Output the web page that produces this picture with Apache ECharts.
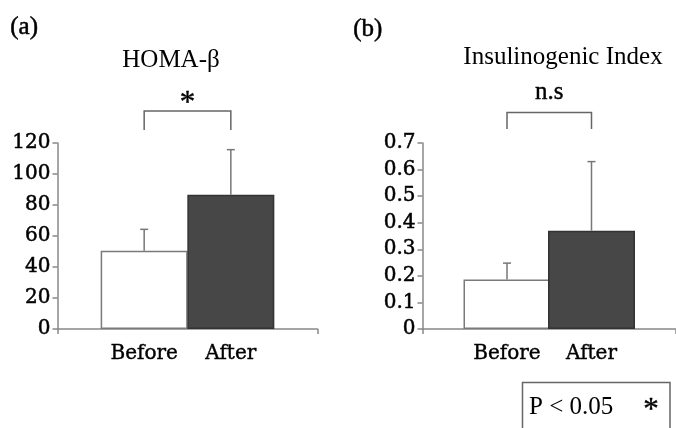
<!DOCTYPE html>
<html>
<head>
<meta charset="utf-8">
<script src="https://cdn.jsdelivr.net/npm/echarts@6/dist/echarts.min.js"></script>
<style>
    html, body { margin: 0; padding: 0; background: #fff; }
    #chart { width: 676px; height: 428px; }
</style>
</head>
<body>
<div id="chart"></div>
<script>
// 两组：治疗前 / 治疗后
const groups = ['Before', 'After'];
// (a) HOMA-β 均值和标准差(只画上半)
const homaMean = [50.5, 86.6];
const homaSD = [13.8, 29.1];
// (b) Insulinogenic Index
const insMean = [0.186, 0.37];
const insSD = [0.062, 0.26];
// 显著性标注：[下端, 上端]
const homaBracket = [128.4, 140.6];
const insBracket = [0.753, 0.815];
const sigText = ['*', 'n.s'];
// 柱子颜色
const barColors = ['#ffffff', '#474747'];
const barBorders = ['#7a7a7a', '#333333'];

const axisColor = '#888';
const serif = '"Liberation Serif", "Times New Roman", serif';
const labelFont = '"DejaVu Serif", serif';

// 类别放在 x=2, x=4 (轴 0..6)
function pos(i) {
    return 2 * (i + 1);
}

function barData(means) {
    return means.map(function (v, i) {
        return {
            value: [pos(i), v],
            itemStyle: { color: barColors[i], borderColor: barBorders[i], borderWidth: 1.5 }
        };
    });
}

function errData(means, sds) {
    return means.map(function (v, i) {
        return [pos(i), v, sds[i]];
    });
}

function renderErr(params, api) {
    var base = api.coord([api.value(0), api.value(1)]);
    var top = api.coord([api.value(0), api.value(1) + api.value(2)]);
    var st = { stroke: '#777', lineWidth: 1.5 };
    return {
        type: 'group',
        children: [
            { type: 'line', shape: { x1: base[0], y1: base[1], x2: top[0], y2: top[1] }, style: st },
            { type: 'line', shape: { x1: top[0] - 4, y1: top[1], x2: top[0] + 4, y2: top[1] }, style: st }
        ]
    };
}

function renderBracket(label, textOffset, fontSize) {
    return function (params, api) {
        var l0 = api.coord([api.value(0), api.value(2)]);
        var l1 = api.coord([api.value(0), api.value(3)]);
        var r1 = api.coord([api.value(1), api.value(3)]);
        var r0 = api.coord([api.value(1), api.value(2)]);
        return {
            type: 'group',
            children: [
                {
                    type: 'polyline',
                    shape: { points: [l0, l1, r1, r0] },
                    style: { stroke: '#666', lineWidth: 1.5, fill: null }
                },
                {
                    type: 'text',
                    style: {
                        text: label,
                        x: (l1[0] + r1[0]) / 2,
                        y: l1[1] - textOffset,
                        align: 'center',
                        verticalAlign: 'middle',
                        font: fontSize + 'px ' + serif,
                        fill: '#000',
                        stroke: '#000',
                        lineWidth: 0.4
                    }
                }
            ]
        };
    };
}

function xAxisOf(gridIndex) {
    return {
        gridIndex: gridIndex,
        type: 'value',
        min: 0,
        max: 6,
        splitLine: { show: false },
        axisLine: { show: true, lineStyle: { color: axisColor, width: 1.5 } },
        axisTick: { show: true, customValues: [0, 6], length: 5, lineStyle: { color: axisColor, width: 1.5 } },
        axisLabel: {
            customValues: [pos(0), pos(1)],
            formatter: function (v) { return groups[v / 2 - 1]; },
            color: '#000',
            fontFamily: labelFont,
            fontSize: 20,
            margin: 15,
            textBorderColor: '#000',
            textBorderWidth: 0.4
        }
    };
}

function yAxisOf(gridIndex, max, interval) {
    return {
        gridIndex: gridIndex,
        type: 'value',
        min: 0,
        max: max,
        interval: interval,
        splitLine: { show: false },
        axisLine: { show: true, lineStyle: { color: axisColor, width: 1.5 } },
        axisTick: { show: true, length: 5, lineStyle: { color: axisColor, width: 1.5 } },
        axisLabel: {
            color: '#000',
            fontFamily: labelFont,
            fontSize: 20,
            margin: 7,
            textBorderColor: '#000',
            textBorderWidth: 0.5
        }
    };
}

var chartDom = document.getElementById('chart');
var myChart = echarts.init(chartDom, null, { renderer: 'canvas' });
var option = {
    animation: false,
    backgroundColor: '#fff',
    grid: [
        { left: 57.5, top: 143, width: 260, height: 186 },
        { left: 422.5, top: 143, width: 260, height: 186 }
    ],
    xAxis: [xAxisOf(0), xAxisOf(1)],
    yAxis: [yAxisOf(0, 120, 20), yAxisOf(1, 0.7, 0.1)],
    series: [
        { type: 'bar', xAxisIndex: 0, yAxisIndex: 0, barWidth: 87, data: barData(homaMean) },
        { type: 'bar', xAxisIndex: 1, yAxisIndex: 1, barWidth: 87, data: barData(insMean) },
        {
            type: 'custom', xAxisIndex: 0, yAxisIndex: 0, clip: false, z: 5,
            renderItem: renderBracket(sigText[0], 7, 31),
            data: [[pos(0), pos(1), homaBracket[0], homaBracket[1]]]
        },
        {
            type: 'custom', xAxisIndex: 1, yAxisIndex: 1, clip: false, z: 5,
            renderItem: renderBracket(sigText[1], 20, 25),
            data: [[pos(0), pos(1), insBracket[0], insBracket[1]]]
        },
        { type: 'custom', xAxisIndex: 0, yAxisIndex: 0, z: 4, renderItem: renderErr, data: errData(homaMean, homaSD) },
        { type: 'custom', xAxisIndex: 1, yAxisIndex: 1, z: 4, renderItem: renderErr, data: errData(insMean, insSD) }
    ],
    graphic: [
        { type: 'text', left: 10, top: 15, style: { text: '(a)', font: '25px ' + serif, fill: '#000', stroke: '#000', lineWidth: 0.5 } },
        { type: 'text', left: 353, top: 17, style: { text: '(b)', font: '25px ' + serif, fill: '#000', stroke: '#000', lineWidth: 0.5 } },
        { type: 'text', x: 171, y: 60, style: { text: 'HOMA-β', font: '25px ' + serif, fill: '#000', align: 'center', verticalAlign: 'middle' } },
        { type: 'text', x: 563, y: 57, style: { text: 'Insulinogenic Index', font: '25px ' + serif, fill: '#000', align: 'center', verticalAlign: 'middle' } },
        // 右下角的 P 值说明框
        { type: 'rect', shape: { x: 522.5, y: 382.5, width: 147.5, height: 60 }, style: { fill: '#fff', stroke: '#666', lineWidth: 1.5 } },
        { type: 'text', x: 529, y: 407.5, style: { text: 'P < 0.05', font: '25px ' + serif, fill: '#000', verticalAlign: 'middle' } },
        { type: 'text', x: 651, y: 411, style: { text: '*', font: '31px ' + serif, fill: '#000', stroke: '#000', lineWidth: 0.4, align: 'center', verticalAlign: 'middle' } }
    ]
};

option && myChart.setOption(option);
</script>
</body>
</html>
